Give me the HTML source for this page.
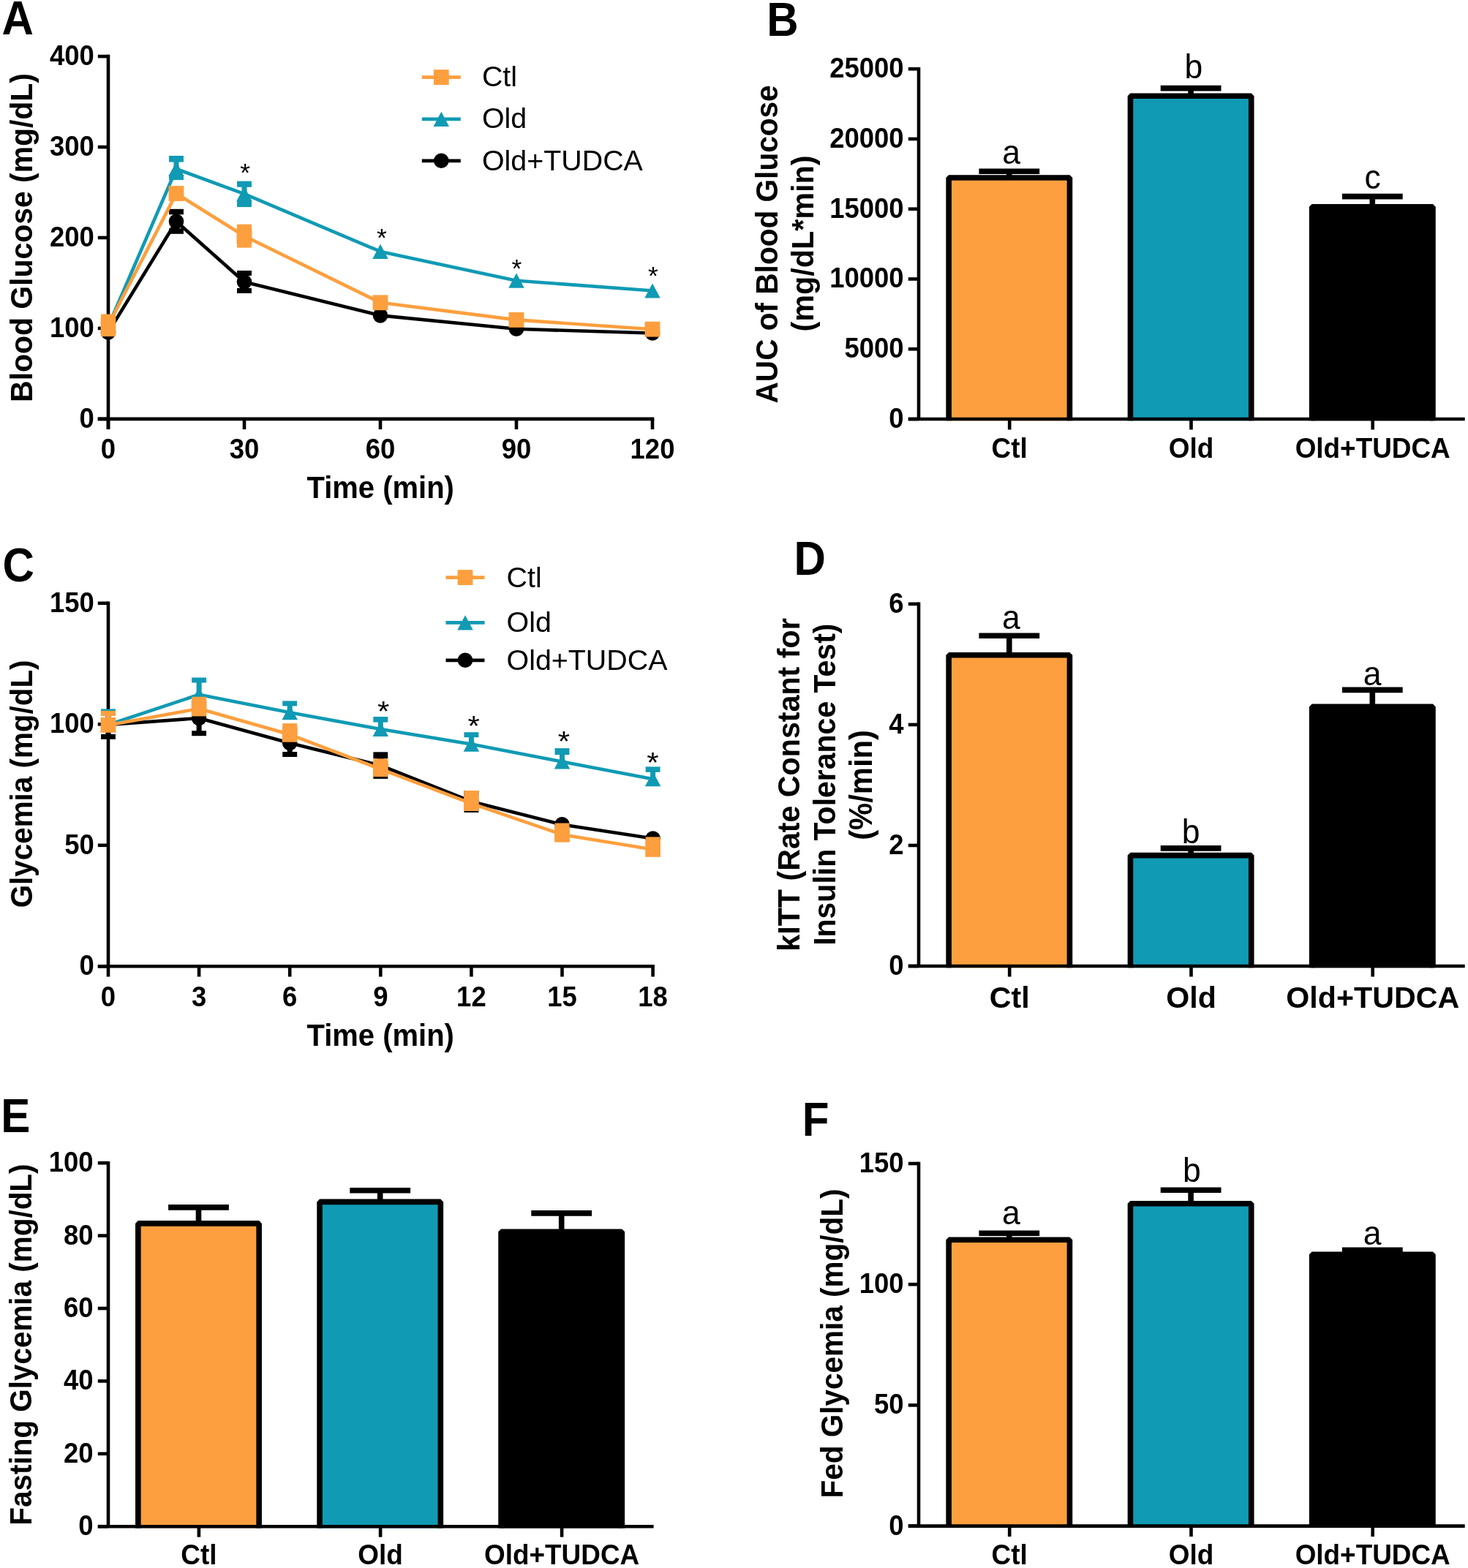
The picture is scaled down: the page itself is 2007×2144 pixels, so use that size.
<!DOCTYPE html>
<html lang="en">
<head>
<meta charset="utf-8">
<title>Figure: glucose and insulin tolerance</title>
<style>
html,body{margin:0;padding:0;background:#fff;}
body{width:2007px;height:2144px;overflow:hidden;}
svg{display:block;}
svg text{font-family:'Liberation Sans', Arial, Helvetica, sans-serif;}
</style>
</head>
<body>
<svg width="2007" height="2144" viewBox="0 0 2007 2144">
<rect x="0" y="0" width="2007" height="2144" fill="#ffffff"/>
<text transform="translate(2.5 47) scale(1 1.066)" font-size="60.1" font-weight="bold" text-anchor="start" fill="#000000">A</text>
<line x1="148" y1="74.8" x2="148" y2="587.1" stroke="#000000" stroke-width="4.6" stroke-linecap="butt"/>
<line x1="133.8" y1="572.9" x2="148" y2="572.9" stroke="#000000" stroke-width="4.6" stroke-linecap="butt"/>
<text transform="translate(128.8 584.8) scale(1 1.07)" font-size="36.5" font-weight="bold" text-anchor="end" fill="#000000">0</text>
<line x1="133.8" y1="448.95" x2="148" y2="448.95" stroke="#000000" stroke-width="4.6" stroke-linecap="butt"/>
<text transform="translate(128.8 460.85) scale(1 1.07)" font-size="36.5" font-weight="bold" text-anchor="end" fill="#000000">100</text>
<line x1="133.8" y1="325" x2="148" y2="325" stroke="#000000" stroke-width="4.6" stroke-linecap="butt"/>
<text transform="translate(128.8 336.9) scale(1 1.07)" font-size="36.5" font-weight="bold" text-anchor="end" fill="#000000">200</text>
<line x1="133.8" y1="201.05" x2="148" y2="201.05" stroke="#000000" stroke-width="4.6" stroke-linecap="butt"/>
<text transform="translate(128.8 212.95) scale(1 1.07)" font-size="36.5" font-weight="bold" text-anchor="end" fill="#000000">300</text>
<line x1="133.8" y1="77.1" x2="148" y2="77.1" stroke="#000000" stroke-width="4.6" stroke-linecap="butt"/>
<text transform="translate(128.8 89) scale(1 1.07)" font-size="36.5" font-weight="bold" text-anchor="end" fill="#000000">400</text>
<line x1="133.8" y1="572.9" x2="894.3" y2="572.9" stroke="#000000" stroke-width="4.6" stroke-linecap="butt"/>
<line x1="148" y1="572.9" x2="148" y2="587.1" stroke="#000000" stroke-width="4.6" stroke-linecap="butt"/>
<line x1="334" y1="572.9" x2="334" y2="587.1" stroke="#000000" stroke-width="4.6" stroke-linecap="butt"/>
<line x1="520" y1="572.9" x2="520" y2="587.1" stroke="#000000" stroke-width="4.6" stroke-linecap="butt"/>
<line x1="706" y1="572.9" x2="706" y2="587.1" stroke="#000000" stroke-width="4.6" stroke-linecap="butt"/>
<line x1="892" y1="572.9" x2="892" y2="587.1" stroke="#000000" stroke-width="4.6" stroke-linecap="butt"/>
<polyline points="148,454.4 241,302.8 334,385.5 520,431.4 706,449.8 892,455.5" fill="none" stroke="#000000" stroke-width="4.6" stroke-linejoin="round"/>
<line x1="241" y1="302.8" x2="241" y2="289.3" stroke="#000000" stroke-width="7" stroke-linecap="butt"/>
<rect x="231.05" y="285.8" width="19.9" height="7.6" fill="#000000"/>
<line x1="241" y1="302.8" x2="241" y2="316.3" stroke="#000000" stroke-width="7" stroke-linecap="butt"/>
<rect x="231.05" y="312.2" width="19.9" height="7.6" fill="#000000"/>
<line x1="334" y1="385.5" x2="334" y2="373.5" stroke="#000000" stroke-width="7" stroke-linecap="butt"/>
<rect x="324.05" y="370" width="19.9" height="7" fill="#000000"/>
<line x1="334" y1="385.5" x2="334" y2="397.5" stroke="#000000" stroke-width="7" stroke-linecap="butt"/>
<rect x="324.05" y="394" width="19.9" height="7" fill="#000000"/>
<circle cx="148" cy="454.4" r="10.3" fill="#000000"/>
<circle cx="241" cy="302.8" r="10.3" fill="#000000"/>
<circle cx="334" cy="385.5" r="10.3" fill="#000000"/>
<circle cx="520" cy="431.4" r="10.3" fill="#000000"/>
<circle cx="706" cy="449.8" r="10.3" fill="#000000"/>
<circle cx="892" cy="455.5" r="10.3" fill="#000000"/>
<polyline points="148,446 241,231 334,265.2 520,343.9 706,383.7 892,397.5" fill="none" stroke="#109AB4" stroke-width="4.6" stroke-linejoin="round"/>
<line x1="241" y1="231" x2="241" y2="216.5" stroke="#109AB4" stroke-width="7" stroke-linecap="butt"/>
<rect x="231.05" y="213" width="19.9" height="8.6" fill="#109AB4"/>
<line x1="241" y1="231" x2="241" y2="242.6" stroke="#109AB4" stroke-width="7" stroke-linecap="butt"/>
<rect x="231.05" y="239.1" width="19.9" height="7" fill="#109AB4"/>
<line x1="334" y1="265.2" x2="334" y2="251.2" stroke="#109AB4" stroke-width="7" stroke-linecap="butt"/>
<rect x="324.05" y="247.7" width="19.9" height="8.1" fill="#109AB4"/>
<line x1="334" y1="265.2" x2="334" y2="279.6" stroke="#109AB4" stroke-width="7" stroke-linecap="butt"/>
<rect x="324.05" y="274.6" width="19.9" height="8.5" fill="#109AB4"/>
<polygon points="148,435.9 158.75,456.1 137.25,456.1" fill="#109AB4"/>
<polygon points="241,220.9 251.75,241.1 230.25,241.1" fill="#109AB4"/>
<polygon points="334,255.1 344.75,275.3 323.25,275.3" fill="#109AB4"/>
<polygon points="520,333.8 530.75,354 509.25,354" fill="#109AB4"/>
<polygon points="706,373.6 716.75,393.8 695.25,393.8" fill="#109AB4"/>
<polygon points="892,387.4 902.75,407.6 881.25,407.6" fill="#109AB4"/>
<polyline points="148,444.8 241,264.6 334,322.7 520,413.8 706,437.4 892,450.2" fill="none" stroke="#FD9F3E" stroke-width="4.6" stroke-linejoin="round"/>
<line x1="148" y1="444.8" x2="148" y2="433" stroke="#FD9F3E" stroke-width="7" stroke-linecap="butt"/>
<rect x="138.05" y="429.5" width="19.9" height="7" fill="#FD9F3E"/>
<line x1="148" y1="444.8" x2="148" y2="456.6" stroke="#FD9F3E" stroke-width="7" stroke-linecap="butt"/>
<rect x="138.05" y="453.1" width="19.9" height="7" fill="#FD9F3E"/>
<line x1="334" y1="322.7" x2="334" y2="310.2" stroke="#FD9F3E" stroke-width="7" stroke-linecap="butt"/>
<rect x="324.05" y="306.7" width="19.9" height="7" fill="#FD9F3E"/>
<line x1="334" y1="322.7" x2="334" y2="335.2" stroke="#FD9F3E" stroke-width="7" stroke-linecap="butt"/>
<rect x="324.05" y="331.7" width="19.9" height="7" fill="#FD9F3E"/>
<rect x="137.6" y="434.4" width="20.8" height="20.8" fill="#FD9F3E"/>
<rect x="230.6" y="254.2" width="20.8" height="20.8" fill="#FD9F3E"/>
<rect x="323.6" y="312.3" width="20.8" height="20.8" fill="#FD9F3E"/>
<rect x="509.6" y="403.4" width="20.8" height="20.8" fill="#FD9F3E"/>
<rect x="695.6" y="427" width="20.8" height="20.8" fill="#FD9F3E"/>
<rect x="881.6" y="439.8" width="20.8" height="20.8" fill="#FD9F3E"/>
<text transform="translate(148 627) scale(1 1.07)" font-size="36.5" font-weight="bold" text-anchor="middle" fill="#000000">0</text>
<text transform="translate(334 627) scale(1 1.07)" font-size="36.5" font-weight="bold" text-anchor="middle" fill="#000000">30</text>
<text transform="translate(520 627) scale(1 1.07)" font-size="36.5" font-weight="bold" text-anchor="middle" fill="#000000">60</text>
<text transform="translate(706 627) scale(1 1.07)" font-size="36.5" font-weight="bold" text-anchor="middle" fill="#000000">90</text>
<text transform="translate(892 627) scale(1 1.07)" font-size="36.5" font-weight="bold" text-anchor="middle" fill="#000000">120</text>
<text transform="translate(520.2 681) scale(1 1.04)" font-size="40" font-weight="bold" text-anchor="middle" fill="#000000">Time (min)</text>
<text transform="translate(44 325) rotate(-90) scale(1 1.04)" font-size="40.9" font-weight="bold" text-anchor="middle" fill="#000000">Blood Glucose (mg/dL)</text>
<line x1="576.8" y1="105.6" x2="629.8" y2="105.6" stroke="#FD9F3E" stroke-width="4.8" stroke-linecap="butt"/>
<rect x="592.9" y="95.2" width="20.8" height="20.8" fill="#FD9F3E"/>
<text transform="translate(658.9 118.4)" font-size="39.4" font-weight="normal" text-anchor="start" fill="#000000">Ctl</text>
<line x1="576.8" y1="162.8" x2="629.8" y2="162.8" stroke="#109AB4" stroke-width="4.8" stroke-linecap="butt"/>
<polygon points="603.3,152.7 614.05,172.9 592.55,172.9" fill="#109AB4"/>
<text transform="translate(658.9 175.4)" font-size="39.4" font-weight="normal" text-anchor="start" fill="#000000">Old</text>
<line x1="576.8" y1="219.8" x2="629.8" y2="219.8" stroke="#000000" stroke-width="4.8" stroke-linecap="butt"/>
<circle cx="603.3" cy="219.8" r="10.3" fill="#000000"/>
<text transform="translate(658.9 232.6)" font-size="39.4" font-weight="normal" text-anchor="start" fill="#000000">Old+TUDCA</text>
<text transform="translate(335.1 247.63) scale(1 0.97)" font-size="35.5" font-weight="normal" text-anchor="middle" fill="#000000">*</text>
<text transform="translate(522 336.93) scale(1 0.97)" font-size="35.5" font-weight="normal" text-anchor="middle" fill="#000000">*</text>
<text transform="translate(706.3 378.63) scale(1 0.97)" font-size="35.5" font-weight="normal" text-anchor="middle" fill="#000000">*</text>
<text transform="translate(892.8 388.73) scale(1 0.97)" font-size="35.5" font-weight="normal" text-anchor="middle" fill="#000000">*</text>
<text transform="translate(3.4 794.7) scale(1 1.066)" font-size="60.1" font-weight="bold" text-anchor="start" fill="#000000">C</text>
<line x1="148" y1="822.5" x2="148" y2="1335.5" stroke="#000000" stroke-width="4.6" stroke-linecap="butt"/>
<line x1="133.8" y1="1321.3" x2="148" y2="1321.3" stroke="#000000" stroke-width="4.6" stroke-linecap="butt"/>
<text transform="translate(128.8 1333.2) scale(1 1.07)" font-size="36.5" font-weight="bold" text-anchor="end" fill="#000000">0</text>
<line x1="133.8" y1="1155.8" x2="148" y2="1155.8" stroke="#000000" stroke-width="4.6" stroke-linecap="butt"/>
<text transform="translate(128.8 1167.7) scale(1 1.07)" font-size="36.5" font-weight="bold" text-anchor="end" fill="#000000">50</text>
<line x1="133.8" y1="990.3" x2="148" y2="990.3" stroke="#000000" stroke-width="4.6" stroke-linecap="butt"/>
<text transform="translate(128.8 1002.2) scale(1 1.07)" font-size="36.5" font-weight="bold" text-anchor="end" fill="#000000">100</text>
<line x1="133.8" y1="824.8" x2="148" y2="824.8" stroke="#000000" stroke-width="4.6" stroke-linecap="butt"/>
<text transform="translate(128.8 836.7) scale(1 1.07)" font-size="36.5" font-weight="bold" text-anchor="end" fill="#000000">150</text>
<line x1="133.8" y1="1321.3" x2="894.9" y2="1321.3" stroke="#000000" stroke-width="4.6" stroke-linecap="butt"/>
<line x1="272.1" y1="1321.3" x2="272.1" y2="1335.5" stroke="#000000" stroke-width="4.6" stroke-linecap="butt"/>
<line x1="396.2" y1="1321.3" x2="396.2" y2="1335.5" stroke="#000000" stroke-width="4.6" stroke-linecap="butt"/>
<line x1="520.3" y1="1321.3" x2="520.3" y2="1335.5" stroke="#000000" stroke-width="4.6" stroke-linecap="butt"/>
<line x1="644.4" y1="1321.3" x2="644.4" y2="1335.5" stroke="#000000" stroke-width="4.6" stroke-linecap="butt"/>
<line x1="768.5" y1="1321.3" x2="768.5" y2="1335.5" stroke="#000000" stroke-width="4.6" stroke-linecap="butt"/>
<line x1="892.6" y1="1321.3" x2="892.6" y2="1335.5" stroke="#000000" stroke-width="4.6" stroke-linecap="butt"/>
<polyline points="148,991 272.1,982 396.2,1016 520.3,1046.6 644.4,1096 768.5,1127.4 892.6,1146.6" fill="none" stroke="#000000" stroke-width="4.6" stroke-linejoin="round"/>
<line x1="148" y1="991" x2="148" y2="974.7" stroke="#000000" stroke-width="7" stroke-linecap="butt"/>
<rect x="138.05" y="971.2" width="19.9" height="7" fill="#000000"/>
<line x1="148" y1="991" x2="148" y2="1007.3" stroke="#000000" stroke-width="7" stroke-linecap="butt"/>
<rect x="138.05" y="1003.8" width="19.9" height="7" fill="#000000"/>
<line x1="272.1" y1="982" x2="272.1" y2="961.3" stroke="#000000" stroke-width="7" stroke-linecap="butt"/>
<rect x="262.15" y="957.8" width="19.9" height="7" fill="#000000"/>
<line x1="272.1" y1="982" x2="272.1" y2="1002.7" stroke="#000000" stroke-width="7" stroke-linecap="butt"/>
<rect x="262.15" y="999.2" width="19.9" height="7" fill="#000000"/>
<line x1="396.2" y1="1016" x2="396.2" y2="1000.5" stroke="#000000" stroke-width="7" stroke-linecap="butt"/>
<rect x="386.25" y="997" width="19.9" height="7" fill="#000000"/>
<line x1="396.2" y1="1016" x2="396.2" y2="1031.5" stroke="#000000" stroke-width="7" stroke-linecap="butt"/>
<rect x="386.25" y="1028" width="19.9" height="7" fill="#000000"/>
<line x1="520.3" y1="1046.6" x2="520.3" y2="1031.8" stroke="#000000" stroke-width="7" stroke-linecap="butt"/>
<rect x="510.35" y="1028.3" width="19.9" height="8.9" fill="#000000"/>
<line x1="520.3" y1="1046.6" x2="520.3" y2="1061.4" stroke="#000000" stroke-width="7" stroke-linecap="butt"/>
<rect x="510.35" y="1056" width="19.9" height="8.9" fill="#000000"/>
<line x1="644.4" y1="1096" x2="644.4" y2="1084.6" stroke="#000000" stroke-width="7" stroke-linecap="butt"/>
<rect x="634.45" y="1081.1" width="19.9" height="7" fill="#000000"/>
<line x1="644.4" y1="1096" x2="644.4" y2="1107.4" stroke="#000000" stroke-width="7" stroke-linecap="butt"/>
<rect x="634.45" y="1103.9" width="19.9" height="7" fill="#000000"/>
<circle cx="148" cy="991" r="10.3" fill="#000000"/>
<circle cx="272.1" cy="982" r="10.3" fill="#000000"/>
<circle cx="396.2" cy="1016" r="10.3" fill="#000000"/>
<circle cx="520.3" cy="1046.6" r="10.3" fill="#000000"/>
<circle cx="644.4" cy="1096" r="10.3" fill="#000000"/>
<circle cx="768.5" cy="1127.4" r="10.3" fill="#000000"/>
<circle cx="892.6" cy="1146.6" r="10.3" fill="#000000"/>
<polyline points="148,991 272.1,949.7 396.2,974.2 520.3,997 644.4,1017.6 768.5,1041.5 892.6,1065.2" fill="none" stroke="#109AB4" stroke-width="4.6" stroke-linejoin="round"/>
<line x1="148" y1="991" x2="148" y2="972.9" stroke="#109AB4" stroke-width="7" stroke-linecap="butt"/>
<rect x="138.05" y="969.4" width="19.9" height="7" fill="#109AB4"/>
<line x1="272.1" y1="949.7" x2="272.1" y2="930" stroke="#109AB4" stroke-width="7" stroke-linecap="butt"/>
<rect x="262.15" y="926.5" width="19.9" height="7" fill="#109AB4"/>
<line x1="396.2" y1="974.2" x2="396.2" y2="961.9" stroke="#109AB4" stroke-width="7" stroke-linecap="butt"/>
<rect x="386.25" y="958.4" width="19.9" height="7" fill="#109AB4"/>
<line x1="520.3" y1="997" x2="520.3" y2="983.5" stroke="#109AB4" stroke-width="7" stroke-linecap="butt"/>
<rect x="510.35" y="980" width="19.9" height="7.6" fill="#109AB4"/>
<line x1="644.4" y1="1017.6" x2="644.4" y2="1004.7" stroke="#109AB4" stroke-width="7" stroke-linecap="butt"/>
<rect x="634.45" y="1001.2" width="19.9" height="7" fill="#109AB4"/>
<line x1="768.5" y1="1041.5" x2="768.5" y2="1026.6" stroke="#109AB4" stroke-width="7" stroke-linecap="butt"/>
<rect x="758.55" y="1023.1" width="19.9" height="9" fill="#109AB4"/>
<line x1="892.6" y1="1065.2" x2="892.6" y2="1051.85" stroke="#109AB4" stroke-width="7" stroke-linecap="butt"/>
<rect x="882.65" y="1048.35" width="19.9" height="7.45" fill="#109AB4"/>
<polygon points="148,980.9 158.75,1001.1 137.25,1001.1" fill="#109AB4"/>
<polygon points="272.1,939.6 282.85,959.8 261.35,959.8" fill="#109AB4"/>
<polygon points="396.2,964.1 406.95,984.3 385.45,984.3" fill="#109AB4"/>
<polygon points="520.3,986.9 531.05,1007.1 509.55,1007.1" fill="#109AB4"/>
<polygon points="644.4,1007.5 655.15,1027.7 633.65,1027.7" fill="#109AB4"/>
<polygon points="768.5,1031.4 779.25,1051.6 757.75,1051.6" fill="#109AB4"/>
<polygon points="892.6,1055.1 903.35,1075.3 881.85,1075.3" fill="#109AB4"/>
<polyline points="148,991.4 272.1,969 396.2,1004.3 520.3,1051.7 644.4,1098.6 768.5,1141.2 892.6,1161.4" fill="none" stroke="#FD9F3E" stroke-width="4.6" stroke-linejoin="round"/>
<line x1="148" y1="991.4" x2="148" y2="975.3" stroke="#FD9F3E" stroke-width="7" stroke-linecap="butt"/>
<rect x="138.05" y="971.8" width="19.9" height="7" fill="#FD9F3E"/>
<line x1="272.1" y1="969" x2="272.1" y2="956.3" stroke="#FD9F3E" stroke-width="7" stroke-linecap="butt"/>
<rect x="262.15" y="952.8" width="19.9" height="7" fill="#FD9F3E"/>
<line x1="396.2" y1="1004.3" x2="396.2" y2="992.6" stroke="#FD9F3E" stroke-width="7" stroke-linecap="butt"/>
<rect x="386.25" y="989.1" width="19.9" height="7" fill="#FD9F3E"/>
<line x1="520.3" y1="1051.7" x2="520.3" y2="1040.8" stroke="#FD9F3E" stroke-width="7" stroke-linecap="butt"/>
<rect x="510.35" y="1037.3" width="19.9" height="7" fill="#FD9F3E"/>
<line x1="644.4" y1="1098.6" x2="644.4" y2="1084.5" stroke="#FD9F3E" stroke-width="7" stroke-linecap="butt"/>
<rect x="634.45" y="1081" width="19.9" height="8.2" fill="#FD9F3E"/>
<line x1="768.5" y1="1141.2" x2="768.5" y2="1129" stroke="#FD9F3E" stroke-width="7" stroke-linecap="butt"/>
<rect x="758.55" y="1125.5" width="19.9" height="7" fill="#FD9F3E"/>
<line x1="892.6" y1="1161.4" x2="892.6" y2="1147.9" stroke="#FD9F3E" stroke-width="7" stroke-linecap="butt"/>
<rect x="882.65" y="1144.4" width="19.9" height="7.6" fill="#FD9F3E"/>
<rect x="137.6" y="981" width="20.8" height="20.8" fill="#FD9F3E"/>
<rect x="261.7" y="958.6" width="20.8" height="20.8" fill="#FD9F3E"/>
<rect x="385.8" y="993.9" width="20.8" height="20.8" fill="#FD9F3E"/>
<rect x="509.9" y="1041.3" width="20.8" height="20.8" fill="#FD9F3E"/>
<rect x="634" y="1088.2" width="20.8" height="20.8" fill="#FD9F3E"/>
<rect x="758.1" y="1130.8" width="20.8" height="20.8" fill="#FD9F3E"/>
<rect x="882.2" y="1151" width="20.8" height="20.8" fill="#FD9F3E"/>
<text transform="translate(148 1376.4) scale(1 1.07)" font-size="36.5" font-weight="bold" text-anchor="middle" fill="#000000">0</text>
<text transform="translate(272.1 1376.4) scale(1 1.07)" font-size="36.5" font-weight="bold" text-anchor="middle" fill="#000000">3</text>
<text transform="translate(396.2 1376.4) scale(1 1.07)" font-size="36.5" font-weight="bold" text-anchor="middle" fill="#000000">6</text>
<text transform="translate(520.3 1376.4) scale(1 1.07)" font-size="36.5" font-weight="bold" text-anchor="middle" fill="#000000">9</text>
<text transform="translate(644.4 1376.4) scale(1 1.07)" font-size="36.5" font-weight="bold" text-anchor="middle" fill="#000000">12</text>
<text transform="translate(768.5 1376.4) scale(1 1.07)" font-size="36.5" font-weight="bold" text-anchor="middle" fill="#000000">15</text>
<text transform="translate(892.6 1376.4) scale(1 1.07)" font-size="36.5" font-weight="bold" text-anchor="middle" fill="#000000">18</text>
<text transform="translate(520.2 1430.2) scale(1 1.04)" font-size="40" font-weight="bold" text-anchor="middle" fill="#000000">Time (min)</text>
<text transform="translate(43.8 1071.9) rotate(-90) scale(1 1.04)" font-size="40.4" font-weight="bold" text-anchor="middle" fill="#000000">Glycemia (mg/dL)</text>
<line x1="609.5" y1="789.6" x2="662.5" y2="789.6" stroke="#FD9F3E" stroke-width="4.8" stroke-linecap="butt"/>
<rect x="625.6" y="779.2" width="20.8" height="20.8" fill="#FD9F3E"/>
<text transform="translate(692.5 803)" font-size="39.4" font-weight="normal" text-anchor="start" fill="#000000">Ctl</text>
<line x1="609.5" y1="851.4" x2="662.5" y2="851.4" stroke="#109AB4" stroke-width="4.8" stroke-linecap="butt"/>
<polygon points="636,841.3 646.75,861.5 625.25,861.5" fill="#109AB4"/>
<text transform="translate(692.5 863.7)" font-size="39.4" font-weight="normal" text-anchor="start" fill="#000000">Old</text>
<line x1="609.5" y1="902.8" x2="662.5" y2="902.8" stroke="#000000" stroke-width="4.8" stroke-linecap="butt"/>
<circle cx="636" cy="902.8" r="10.3" fill="#000000"/>
<text transform="translate(692.5 915.8)" font-size="39.4" font-weight="normal" text-anchor="start" fill="#000000">Old+TUDCA</text>
<text transform="translate(524.1 986.32) scale(1 0.93)" font-size="42" font-weight="normal" text-anchor="middle" fill="#000000">*</text>
<text transform="translate(647.7 1006.32) scale(1 0.93)" font-size="42" font-weight="normal" text-anchor="middle" fill="#000000">*</text>
<text transform="translate(770.8 1027.02) scale(1 0.93)" font-size="42" font-weight="normal" text-anchor="middle" fill="#000000">*</text>
<text transform="translate(892.5 1055.72) scale(1 0.93)" font-size="42" font-weight="normal" text-anchor="middle" fill="#000000">*</text>
<line x1="1379.8" y1="243" x2="1379.8" y2="234.2" stroke="#000000" stroke-width="7.6" stroke-linecap="butt"/>
<line x1="1338.4" y1="234.2" x2="1421.2" y2="234.2" stroke="#000000" stroke-width="7.6" stroke-linecap="butt"/>
<path d="M1297.15 575.3V243H1462.45V575.3" fill="#FD9F3E" stroke="#000000" stroke-width="7.6" stroke-linejoin="bevel"/>
<text transform="translate(1382.6 223.8) scale(1 1.05)" font-size="44.5" font-weight="normal" text-anchor="middle" fill="#000000">a</text>
<line x1="1628.1" y1="131.3" x2="1628.1" y2="120.6" stroke="#000000" stroke-width="7.6" stroke-linecap="butt"/>
<line x1="1586.7" y1="120.6" x2="1669.5" y2="120.6" stroke="#000000" stroke-width="7.6" stroke-linecap="butt"/>
<path d="M1545.45 575.3V131.3H1710.75V575.3" fill="#109AB4" stroke="#000000" stroke-width="7.6" stroke-linejoin="bevel"/>
<text transform="translate(1631.9 107.1) scale(1 1.05)" font-size="44.5" font-weight="normal" text-anchor="middle" fill="#000000">b</text>
<line x1="1876.3" y1="282.7" x2="1876.3" y2="268.6" stroke="#000000" stroke-width="7.6" stroke-linecap="butt"/>
<line x1="1834.9" y1="268.6" x2="1917.7" y2="268.6" stroke="#000000" stroke-width="7.6" stroke-linecap="butt"/>
<path d="M1793.65 575.3V282.7H1958.95V575.3" fill="#000000" stroke="#000000" stroke-width="7.6" stroke-linejoin="bevel"/>
<text transform="translate(1876.7 257.8) scale(1 1.05)" font-size="44.5" font-weight="normal" text-anchor="middle" fill="#000000">c</text>
<line x1="1256" y1="91.95" x2="1256" y2="573" stroke="#000000" stroke-width="4.6" stroke-linecap="butt"/>
<line x1="1241.8" y1="573" x2="1256" y2="573" stroke="#000000" stroke-width="4.6" stroke-linecap="butt"/>
<text transform="translate(1235.6 584.9) scale(1 1.07)" font-size="36.5" font-weight="bold" text-anchor="end" fill="#000000">0</text>
<line x1="1241.8" y1="477.25" x2="1256" y2="477.25" stroke="#000000" stroke-width="4.6" stroke-linecap="butt"/>
<text transform="translate(1235.6 489.15) scale(1 1.07)" font-size="36.5" font-weight="bold" text-anchor="end" fill="#000000">5000</text>
<line x1="1241.8" y1="381.5" x2="1256" y2="381.5" stroke="#000000" stroke-width="4.6" stroke-linecap="butt"/>
<text transform="translate(1235.6 393.4) scale(1 1.07)" font-size="36.5" font-weight="bold" text-anchor="end" fill="#000000">10000</text>
<line x1="1241.8" y1="285.75" x2="1256" y2="285.75" stroke="#000000" stroke-width="4.6" stroke-linecap="butt"/>
<text transform="translate(1235.6 297.65) scale(1 1.07)" font-size="36.5" font-weight="bold" text-anchor="end" fill="#000000">15000</text>
<line x1="1241.8" y1="190" x2="1256" y2="190" stroke="#000000" stroke-width="4.6" stroke-linecap="butt"/>
<text transform="translate(1235.6 201.9) scale(1 1.07)" font-size="36.5" font-weight="bold" text-anchor="end" fill="#000000">20000</text>
<line x1="1241.8" y1="94.25" x2="1256" y2="94.25" stroke="#000000" stroke-width="4.6" stroke-linecap="butt"/>
<text transform="translate(1235.6 106.15) scale(1 1.07)" font-size="36.5" font-weight="bold" text-anchor="end" fill="#000000">25000</text>
<line x1="1241.8" y1="573" x2="2002.7" y2="573" stroke="#000000" stroke-width="4.6" stroke-linecap="butt"/>
<line x1="1380.2" y1="573" x2="1380.2" y2="587.5" stroke="#000000" stroke-width="4.6" stroke-linecap="butt"/>
<line x1="1628.5" y1="573" x2="1628.5" y2="587.5" stroke="#000000" stroke-width="4.6" stroke-linecap="butt"/>
<line x1="1876.7" y1="573" x2="1876.7" y2="587.5" stroke="#000000" stroke-width="4.6" stroke-linecap="butt"/>
<text transform="translate(1380.2 626.2) scale(1 1.06)" font-size="36.9" font-weight="bold" text-anchor="middle" fill="#000000">Ctl</text>
<text transform="translate(1628.5 626.2) scale(1 1.06)" font-size="36.9" font-weight="bold" text-anchor="middle" fill="#000000">Old</text>
<text transform="translate(1876.7 626.2) scale(1 1.06)" font-size="36.9" font-weight="bold" text-anchor="middle" fill="#000000">Old+TUDCA</text>
<text transform="translate(1063.1 333.9) rotate(-90) scale(1 1.04)" font-size="40.6" font-weight="bold" text-anchor="middle" fill="#000000">AUC of Blood Glucose</text>
<text transform="translate(1111.6 333) rotate(-90) scale(1 1.04)" font-size="41.3" font-weight="bold" text-anchor="middle" fill="#000000">(mg/dL*min)</text>
<text transform="translate(1048.2 49) scale(1 1.066)" font-size="60.1" font-weight="bold" text-anchor="start" fill="#000000">B</text>
<line x1="1379.8" y1="895.8" x2="1379.8" y2="869.3" stroke="#000000" stroke-width="7.6" stroke-linecap="butt"/>
<line x1="1338.4" y1="869.3" x2="1421.2" y2="869.3" stroke="#000000" stroke-width="7.6" stroke-linecap="butt"/>
<path d="M1297.15 1323.3V895.8H1462.45V1323.3" fill="#FD9F3E" stroke="#000000" stroke-width="7.6" stroke-linejoin="bevel"/>
<text transform="translate(1382.4 860) scale(1 1.05)" font-size="44.5" font-weight="normal" text-anchor="middle" fill="#000000">a</text>
<line x1="1628.1" y1="1169.6" x2="1628.1" y2="1159.9" stroke="#000000" stroke-width="7.6" stroke-linecap="butt"/>
<line x1="1586.7" y1="1159.9" x2="1669.5" y2="1159.9" stroke="#000000" stroke-width="7.6" stroke-linecap="butt"/>
<path d="M1545.45 1323.3V1169.6H1710.75V1323.3" fill="#109AB4" stroke="#000000" stroke-width="7.6" stroke-linejoin="bevel"/>
<text transform="translate(1628 1153.1) scale(1 1.05)" font-size="44.5" font-weight="normal" text-anchor="middle" fill="#000000">b</text>
<line x1="1876.3" y1="966.4" x2="1876.3" y2="943.4" stroke="#000000" stroke-width="7.6" stroke-linecap="butt"/>
<line x1="1834.9" y1="943.4" x2="1917.7" y2="943.4" stroke="#000000" stroke-width="7.6" stroke-linecap="butt"/>
<path d="M1793.65 1323.3V966.4H1958.95V1323.3" fill="#000000" stroke="#000000" stroke-width="7.6" stroke-linejoin="bevel"/>
<text transform="translate(1876.1 936.6) scale(1 1.05)" font-size="44.5" font-weight="normal" text-anchor="middle" fill="#000000">a</text>
<line x1="1256" y1="823.55" x2="1256" y2="1321" stroke="#000000" stroke-width="4.6" stroke-linecap="butt"/>
<line x1="1241.8" y1="1321" x2="1256" y2="1321" stroke="#000000" stroke-width="4.6" stroke-linecap="butt"/>
<text transform="translate(1235.6 1332.9) scale(1 1.07)" font-size="36.5" font-weight="bold" text-anchor="end" fill="#000000">0</text>
<line x1="1241.8" y1="1155.95" x2="1256" y2="1155.95" stroke="#000000" stroke-width="4.6" stroke-linecap="butt"/>
<text transform="translate(1235.6 1167.85) scale(1 1.07)" font-size="36.5" font-weight="bold" text-anchor="end" fill="#000000">2</text>
<line x1="1241.8" y1="990.9" x2="1256" y2="990.9" stroke="#000000" stroke-width="4.6" stroke-linecap="butt"/>
<text transform="translate(1235.6 1002.8) scale(1 1.07)" font-size="36.5" font-weight="bold" text-anchor="end" fill="#000000">4</text>
<line x1="1241.8" y1="825.85" x2="1256" y2="825.85" stroke="#000000" stroke-width="4.6" stroke-linecap="butt"/>
<text transform="translate(1235.6 837.75) scale(1 1.07)" font-size="36.5" font-weight="bold" text-anchor="end" fill="#000000">6</text>
<line x1="1241.8" y1="1321" x2="2002.7" y2="1321" stroke="#000000" stroke-width="4.6" stroke-linecap="butt"/>
<line x1="1380.2" y1="1321" x2="1380.2" y2="1335.5" stroke="#000000" stroke-width="4.6" stroke-linecap="butt"/>
<line x1="1628.5" y1="1321" x2="1628.5" y2="1335.5" stroke="#000000" stroke-width="4.6" stroke-linecap="butt"/>
<line x1="1876.7" y1="1321" x2="1876.7" y2="1335.5" stroke="#000000" stroke-width="4.6" stroke-linecap="butt"/>
<text transform="translate(1380.2 1377.6) scale(1 0.99)" font-size="41.2" font-weight="bold" text-anchor="middle" fill="#000000">Ctl</text>
<text transform="translate(1628.5 1377.6) scale(1 0.99)" font-size="41.2" font-weight="bold" text-anchor="middle" fill="#000000">Old</text>
<text transform="translate(1876.7 1377.6) scale(1 0.99)" font-size="41.2" font-weight="bold" text-anchor="middle" fill="#000000">Old+TUDCA</text>
<text transform="translate(1092.7 1073) rotate(-90) scale(1 1.04)" font-size="41.2" font-weight="bold" text-anchor="middle" fill="#000000">kITT (Rate Constant for</text>
<text transform="translate(1141.6 1072.7) rotate(-90) scale(1 1.04)" font-size="41" font-weight="bold" text-anchor="middle" fill="#000000">Insulin Tolerance Test)</text>
<text transform="translate(1192.1 1073.4) rotate(-90) scale(1 1.04)" font-size="41.8" font-weight="bold" text-anchor="middle" fill="#000000">(%/min)</text>
<text transform="translate(1085.5 785.6) scale(1 1.066)" font-size="60.1" font-weight="bold" text-anchor="start" fill="#000000">D</text>
<line x1="271.5" y1="1672.9" x2="271.5" y2="1650.9" stroke="#000000" stroke-width="7.6" stroke-linecap="butt"/>
<line x1="230.1" y1="1650.9" x2="312.9" y2="1650.9" stroke="#000000" stroke-width="7.6" stroke-linecap="butt"/>
<path d="M188.85 2089.5V1672.9H354.15V2089.5" fill="#FD9F3E" stroke="#000000" stroke-width="7.6" stroke-linejoin="bevel"/>
<line x1="519.7" y1="1643.4" x2="519.7" y2="1627.8" stroke="#000000" stroke-width="7.6" stroke-linecap="butt"/>
<line x1="478.3" y1="1627.8" x2="561.1" y2="1627.8" stroke="#000000" stroke-width="7.6" stroke-linecap="butt"/>
<path d="M437.05 2089.5V1643.4H602.35V2089.5" fill="#109AB4" stroke="#000000" stroke-width="7.6" stroke-linejoin="bevel"/>
<line x1="767.7" y1="1684.2" x2="767.7" y2="1658.9" stroke="#000000" stroke-width="7.6" stroke-linecap="butt"/>
<line x1="726.3" y1="1658.9" x2="809.1" y2="1658.9" stroke="#000000" stroke-width="7.6" stroke-linecap="butt"/>
<path d="M685.05 2089.5V1684.2H850.35V2089.5" fill="#000000" stroke="#000000" stroke-width="7.6" stroke-linejoin="bevel"/>
<line x1="148" y1="1587.9" x2="148" y2="2087.2" stroke="#000000" stroke-width="4.6" stroke-linecap="butt"/>
<line x1="133.8" y1="2087.2" x2="148" y2="2087.2" stroke="#000000" stroke-width="4.6" stroke-linecap="butt"/>
<text transform="translate(127.6 2099.1) scale(1 1.07)" font-size="36.5" font-weight="bold" text-anchor="end" fill="#000000">0</text>
<line x1="133.8" y1="1987.8" x2="148" y2="1987.8" stroke="#000000" stroke-width="4.6" stroke-linecap="butt"/>
<text transform="translate(127.6 1999.7) scale(1 1.07)" font-size="36.5" font-weight="bold" text-anchor="end" fill="#000000">20</text>
<line x1="133.8" y1="1888.4" x2="148" y2="1888.4" stroke="#000000" stroke-width="4.6" stroke-linecap="butt"/>
<text transform="translate(127.6 1900.3) scale(1 1.07)" font-size="36.5" font-weight="bold" text-anchor="end" fill="#000000">40</text>
<line x1="133.8" y1="1789" x2="148" y2="1789" stroke="#000000" stroke-width="4.6" stroke-linecap="butt"/>
<text transform="translate(127.6 1800.9) scale(1 1.07)" font-size="36.5" font-weight="bold" text-anchor="end" fill="#000000">60</text>
<line x1="133.8" y1="1689.6" x2="148" y2="1689.6" stroke="#000000" stroke-width="4.6" stroke-linecap="butt"/>
<text transform="translate(127.6 1701.5) scale(1 1.07)" font-size="36.5" font-weight="bold" text-anchor="end" fill="#000000">80</text>
<line x1="133.8" y1="1590.2" x2="148" y2="1590.2" stroke="#000000" stroke-width="4.6" stroke-linecap="butt"/>
<text transform="translate(127.6 1602.1) scale(1 1.07)" font-size="36.5" font-weight="bold" text-anchor="end" fill="#000000">100</text>
<line x1="133.8" y1="2087.2" x2="893.6" y2="2087.2" stroke="#000000" stroke-width="4.6" stroke-linecap="butt"/>
<line x1="271.9" y1="2087.2" x2="271.9" y2="2101.7" stroke="#000000" stroke-width="4.6" stroke-linecap="butt"/>
<line x1="520.1" y1="2087.2" x2="520.1" y2="2101.7" stroke="#000000" stroke-width="4.6" stroke-linecap="butt"/>
<line x1="768.1" y1="2087.2" x2="768.1" y2="2101.7" stroke="#000000" stroke-width="4.6" stroke-linecap="butt"/>
<text transform="translate(271.9 2139) scale(1 1.06)" font-size="36.9" font-weight="bold" text-anchor="middle" fill="#000000">Ctl</text>
<text transform="translate(520.1 2139) scale(1 1.06)" font-size="36.9" font-weight="bold" text-anchor="middle" fill="#000000">Old</text>
<text transform="translate(768.1 2139) scale(1 1.06)" font-size="36.9" font-weight="bold" text-anchor="middle" fill="#000000">Old+TUDCA</text>
<text transform="translate(43.3 1838.6) rotate(-90) scale(1 1.04)" font-size="40.45" font-weight="bold" text-anchor="middle" fill="#000000">Fasting Glycemia (mg/dL)</text>
<text transform="translate(1.2 1547.9) scale(1 1.066)" font-size="60.1" font-weight="bold" text-anchor="start" fill="#000000">E</text>
<line x1="1379.8" y1="1695.3" x2="1379.8" y2="1686.2" stroke="#000000" stroke-width="7.6" stroke-linecap="butt"/>
<line x1="1338.4" y1="1686.2" x2="1421.2" y2="1686.2" stroke="#000000" stroke-width="7.6" stroke-linecap="butt"/>
<path d="M1297.15 2088.9V1695.3H1462.45V2088.9" fill="#FD9F3E" stroke="#000000" stroke-width="7.6" stroke-linejoin="bevel"/>
<text transform="translate(1382.4 1674) scale(1 1.05)" font-size="44.5" font-weight="normal" text-anchor="middle" fill="#000000">a</text>
<line x1="1628.1" y1="1645.8" x2="1628.1" y2="1627.2" stroke="#000000" stroke-width="7.6" stroke-linecap="butt"/>
<line x1="1586.7" y1="1627.2" x2="1669.5" y2="1627.2" stroke="#000000" stroke-width="7.6" stroke-linecap="butt"/>
<path d="M1545.45 2088.9V1645.8H1710.75V2088.9" fill="#109AB4" stroke="#000000" stroke-width="7.6" stroke-linejoin="bevel"/>
<text transform="translate(1629.4 1616.1) scale(1 1.05)" font-size="44.5" font-weight="normal" text-anchor="middle" fill="#000000">b</text>
<line x1="1876.3" y1="1715.2" x2="1876.3" y2="1709.4" stroke="#000000" stroke-width="7.6" stroke-linecap="butt"/>
<line x1="1834.9" y1="1709.4" x2="1917.7" y2="1709.4" stroke="#000000" stroke-width="7.6" stroke-linecap="butt"/>
<path d="M1793.65 2088.9V1715.2H1958.95V2088.9" fill="#000000" stroke="#000000" stroke-width="7.6" stroke-linejoin="bevel"/>
<text transform="translate(1876.2 1701.6) scale(1 1.05)" font-size="44.5" font-weight="normal" text-anchor="middle" fill="#000000">a</text>
<line x1="1256" y1="1588.7" x2="1256" y2="2086.6" stroke="#000000" stroke-width="4.6" stroke-linecap="butt"/>
<line x1="1241.8" y1="2086.6" x2="1256" y2="2086.6" stroke="#000000" stroke-width="4.6" stroke-linecap="butt"/>
<text transform="translate(1235.6 2098.5) scale(1 1.07)" font-size="36.5" font-weight="bold" text-anchor="end" fill="#000000">0</text>
<line x1="1241.8" y1="1921.4" x2="1256" y2="1921.4" stroke="#000000" stroke-width="4.6" stroke-linecap="butt"/>
<text transform="translate(1235.6 1933.3) scale(1 1.07)" font-size="36.5" font-weight="bold" text-anchor="end" fill="#000000">50</text>
<line x1="1241.8" y1="1756.2" x2="1256" y2="1756.2" stroke="#000000" stroke-width="4.6" stroke-linecap="butt"/>
<text transform="translate(1235.6 1768.1) scale(1 1.07)" font-size="36.5" font-weight="bold" text-anchor="end" fill="#000000">100</text>
<line x1="1241.8" y1="1591" x2="1256" y2="1591" stroke="#000000" stroke-width="4.6" stroke-linecap="butt"/>
<text transform="translate(1235.6 1602.9) scale(1 1.07)" font-size="36.5" font-weight="bold" text-anchor="end" fill="#000000">150</text>
<line x1="1241.8" y1="2086.6" x2="2002.7" y2="2086.6" stroke="#000000" stroke-width="4.6" stroke-linecap="butt"/>
<line x1="1380.2" y1="2086.6" x2="1380.2" y2="2101.1" stroke="#000000" stroke-width="4.6" stroke-linecap="butt"/>
<line x1="1628.5" y1="2086.6" x2="1628.5" y2="2101.1" stroke="#000000" stroke-width="4.6" stroke-linecap="butt"/>
<line x1="1876.7" y1="2086.6" x2="1876.7" y2="2101.1" stroke="#000000" stroke-width="4.6" stroke-linecap="butt"/>
<text transform="translate(1380.2 2138.6) scale(1 1.06)" font-size="36.9" font-weight="bold" text-anchor="middle" fill="#000000">Ctl</text>
<text transform="translate(1628.5 2138.6) scale(1 1.06)" font-size="36.9" font-weight="bold" text-anchor="middle" fill="#000000">Old</text>
<text transform="translate(1876.7 2138.6) scale(1 1.06)" font-size="36.9" font-weight="bold" text-anchor="middle" fill="#000000">Old+TUDCA</text>
<text transform="translate(1151.8 1837) rotate(-90) scale(1 1.04)" font-size="40.5" font-weight="bold" text-anchor="middle" fill="#000000">Fed Glycemia (mg/dL)</text>
<text transform="translate(1096.7 1552.8) scale(1 1.066)" font-size="60.1" font-weight="bold" text-anchor="start" fill="#000000">F</text>
</svg>
</body>
</html>
